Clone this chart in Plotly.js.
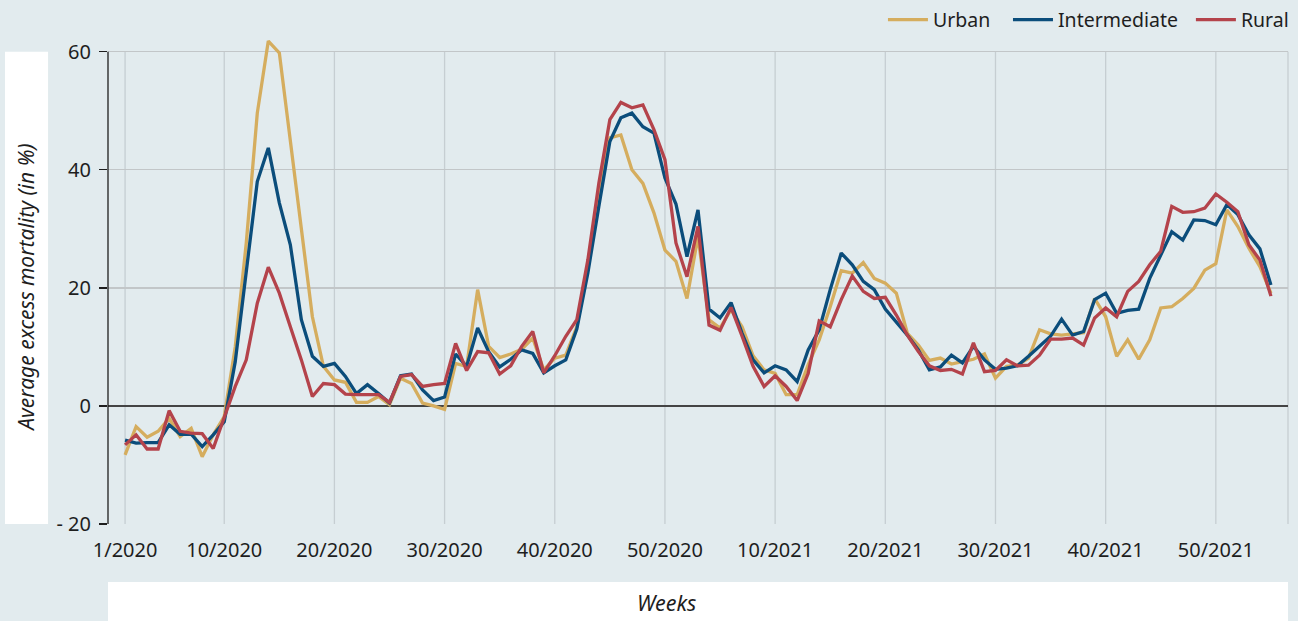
<!DOCTYPE html>
<html>
<head>
<meta charset="utf-8">
<script src="https://cdn.plot.ly/plotly-3.0.1.min.js"></script>
<style>
html,body{margin:0;padding:0;background:#e2ebee;}
#chart{width:1298px;height:621px;}
</style>
</head>
<body>
<div id="chart"></div>
<script>
const tickIdx = [0, 9, 19, 29, 39, 49, 59, 69, 79, 89, 99];
const tickLabels = ['1/2020','10/2020','20/2020','30/2020','40/2020','50/2020','10/2021','20/2021','30/2021','40/2021','50/2021'];
const yTicks = [-20, 0, 20, 40, 60];
const yTickLabels = ['- 20', '0', '20', '40', '60'];

const urban = [
 -8.3,-3.5,-5.3,-4.3,-2.1,-5.2,-3.8,-8.6,-4.9,-1.8,
 10.0,27.6,49.6,61.8,59.8,45.0,29.8,15.1,6.7,4.4,
 4.0,0.6,0.6,1.6,0.2,4.7,3.8,0.5,0.0,-0.6,
 7.2,6.7,19.7,10.1,8.2,8.8,9.6,11.5,6.1,8.1,
 8.6,13.4,23.6,36.0,45.4,45.9,40.0,37.7,32.7,26.4,
 24.5,18.2,28.7,14.6,13.2,16.3,13.4,8.5,6.1,5.5,
 1.9,1.9,7.0,11.2,16.8,22.9,22.5,24.3,21.6,20.8,
 19.1,12.3,10.3,7.7,8.1,7.1,7.5,7.9,8.8,4.7,
 6.7,6.9,8.1,12.9,12.2,12.0,12.2,12.4,18.2,15.1,
 8.4,11.2,7.9,11.2,16.6,16.8,18.2,19.9,23.0,24.1,
 33.2,30.4,26.7,23.6,19.1
];
const intermediate = [
 -5.8,-6.3,-6.2,-6.2,-3.2,-4.8,-4.8,-6.9,-4.9,-2.7,
 7.5,22.5,38.0,43.7,34.4,27.3,14.6,8.4,6.7,7.2,
 5.0,2.1,3.6,2.1,0.5,5.1,5.4,2.7,0.9,1.5,
 8.8,6.7,13.2,9.2,6.6,7.9,9.5,8.9,5.6,6.8,
 7.8,13.0,22.5,33.8,44.8,48.8,49.6,47.3,46.2,38.6,
 34.2,25.3,33.2,16.4,14.9,17.5,12.3,7.8,5.6,6.8,
 6.1,4.1,9.5,12.9,19.7,25.9,23.9,21.1,19.7,16.4,
 14.3,12.0,9.5,6.1,6.6,8.6,7.3,10.1,7.8,6.2,
 6.4,6.8,8.4,10.1,11.8,14.7,12.0,12.6,18.0,19.1,
 15.7,16.2,16.4,21.6,25.6,29.5,28.1,31.5,31.4,30.7,
 34.1,32.4,29.0,26.6,20.5
];
const rural = [
 -6.6,-4.9,-7.3,-7.3,-0.8,-4.3,-4.6,-4.7,-7.2,-1.8,
 3.3,7.8,17.4,23.5,19.1,13.4,7.8,1.6,3.8,3.6,
 2.0,1.9,1.9,1.9,0.6,5.0,5.3,3.3,3.6,3.8,
 10.6,6.0,9.2,9.0,5.4,6.8,10.1,12.6,5.6,8.5,
 11.8,14.6,24.7,37.7,48.5,51.4,50.5,51.0,46.8,41.7,
 27.6,21.9,30.4,13.7,12.8,16.7,11.8,6.7,3.3,5.1,
 3.3,0.9,5.5,14.4,13.4,18.0,22.0,19.4,18.2,18.4,
 15.4,12.0,9.2,6.8,6.0,6.2,5.4,10.7,5.8,6.0,
 7.8,6.8,6.9,8.6,11.3,11.3,11.5,10.3,14.9,16.6,
 15.1,19.4,21.1,23.9,26.2,33.8,32.8,32.9,33.5,35.9,
 34.5,32.9,27.3,24.7,18.6
];

const xIdx = urban.map((_, i) => i);
const font = 'Noto Sans, sans-serif';
const bg = '#e2ebee';
const ink = '#1e1e1e';

const traces = [
  {name: 'Urban', legend: 'legend', x: xIdx, y: urban, type: 'scatter', mode: 'lines', line: {color: '#d5ad5e', width: 3.3}},
  {name: 'Intermediate', legend: 'legend2', x: xIdx, y: intermediate, type: 'scatter', mode: 'lines', line: {color: '#0b4d7b', width: 3.3}},
  {name: 'Rural', legend: 'legend3', x: xIdx, y: rural, type: 'scatter', mode: 'lines', line: {color: '#b4434b', width: 3.3}}
];

const yTop = yTicks[yTicks.length - 1], yBot = yTicks[0];
const shapes = [];
// white boxes behind axis titles
shapes.push({type: 'rect', xref: 'paper', yref: 'y', x0: -0.0873, x1: -0.0508, y0: yBot - 0.2, y1: yTop,
  fillcolor: '#ffffff', line: {width: 0}, layer: 'below'});
shapes.push({type: 'rect', xref: 'paper', yref: 'paper', x0: 0, x1: 1, y0: -0.22, y1: -0.1184,
  fillcolor: '#ffffff', line: {width: 0}, layer: 'below'});
// vertical grid lines at the week ticks
tickIdx.forEach(t => shapes.push({type: 'line', xref: 'x', yref: 'y', x0: t, x1: t, y0: yBot, y1: yTop,
  line: {color: '#c6ced2', width: 1.3}, layer: 'below'}));
// right border
shapes.push({type: 'line', xref: 'paper', yref: 'y', x0: 1, x1: 1, y0: yBot, y1: yTop,
  line: {color: '#c6ced2', width: 1.3}, layer: 'below'});
// y axis line
shapes.push({type: 'line', xref: 'paper', yref: 'y', x0: 0, x1: 0, y0: yBot, y1: yTop,
  line: {color: ink, width: 1.3}, layer: 'above'});

function legendAt(x) {
  return {orientation: 'h', x: x, xanchor: 'right', y: 1.0286, yanchor: 'middle',
    itemwidth: 40, bgcolor: 'rgba(0,0,0,0)', font: {family: font, size: 19.5, color: ink}};
}

const layout = {
  width: 1298, height: 621,
  paper_bgcolor: bg, plot_bgcolor: bg,
  margin: {l: 108, r: 10, t: 34, b: 97, autoexpand: false},
  font: {family: font, size: 20, color: ink},
  showlegend: true,
  legend: legendAt(0.7525),
  legend2: legendAt(0.911),
  legend3: legendAt(1.005),
  xaxis: {
    range: [-1.55, 105.55], tickvals: tickIdx, ticktext: tickLabels,
    showgrid: false, zeroline: false, showline: false, ticks: '', automargin: false,
    ticklabelstandoff: 12, tickfont: {family: font, size: 20, color: ink}, fixedrange: true
  },
  yaxis: {
    range: [-20, 63], tickvals: yTicks, ticktext: yTickLabels, automargin: false,
    showgrid: true, gridcolor: '#c2c6c8', gridwidth: 1.3,
    zeroline: true, zerolinecolor: '#444444', zerolinewidth: 1.6,
    showline: false, ticks: 'outside', ticklen: 8, tickcolor: ink, tickwidth: 1.3,
    ticklabelstandoff: 4, tickfont: {family: font, size: 20, color: ink}, fixedrange: true
  },
  shapes: shapes,
  annotations: [
    {text: 'Average excess mortality (in %)', xref: 'paper', yref: 'y', x: -0.0695, y: (yTop + yBot) / 2,
      xanchor: 'center', yanchor: 'middle', textangle: -90, showarrow: false,
      font: {family: font, size: 21, color: ink, style: 'italic'}},
    {text: 'Weeks', xref: 'paper', yref: 'paper', x: 0.473, y: -0.161,
      xanchor: 'center', yanchor: 'middle', showarrow: false,
      font: {family: font, size: 21.5, color: ink, style: 'italic'}}
  ]
};

Plotly.newPlot('chart', traces, layout, {displayModeBar: false, staticPlot: true});
</script>
</body>
</html>
